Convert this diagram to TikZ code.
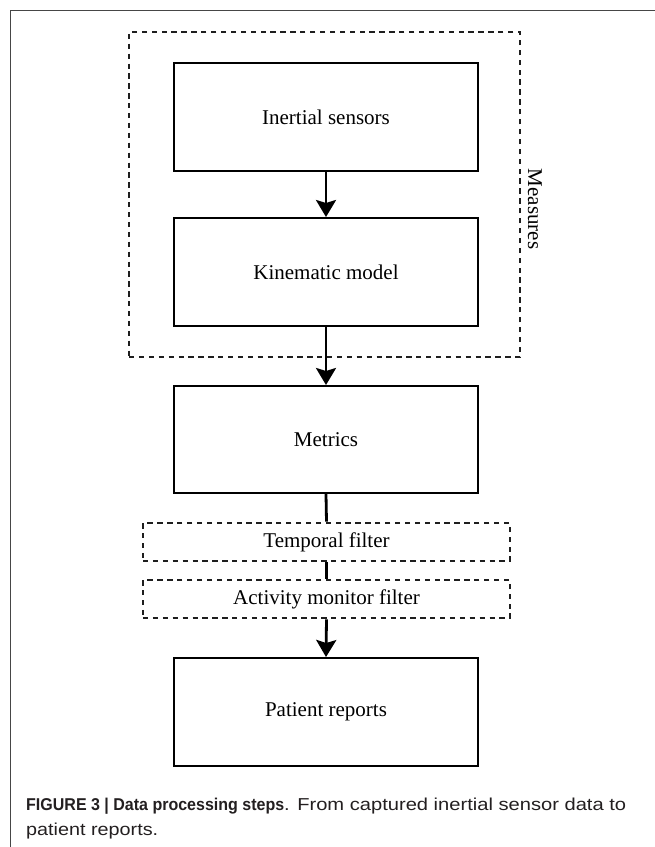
\documentclass[tikz,border=0pt]{standalone}
\usepackage{fontspec}
\setmainfont{Liberation Serif}
\newfontfamily\capfont{Liberation Sans}
\usetikzlibrary{arrows.meta}
\definecolor{framegray}{RGB}{70,70,70}
\definecolor{captext}{RGB}{35,31,32}
\definecolor{dashcol}{RGB}{30,30,30}
\tikzset{
  stepbox/.style={draw=black, line width=2pt, minimum width=304pt, inner sep=0pt,
    font=\fontsize{21}{25}\selectfont},
  dashbox/.style={draw=dashcol, line width=2.9pt, dash pattern=on 5.3pt off 4.6pt, inner sep=0pt,
    font=\fontsize{21}{25}\selectfont},
  arr/.style={line width=2.8pt, -{Stealth[length=17pt,width=20pt,inset=3pt]}},
  link/.style={line width=2.8pt},
  captxt/.style={inner sep=0pt, anchor=base west, text=captext, font=\capfont\fontsize{17.5}{20}\selectfont},
}
\begin{document}
\begin{tikzpicture}[x=1pt,y=-1pt]
\useasboundingbox (0,0) rectangle (655,847);
% outer frame
\draw[framegray, line width=1pt] (655,10.7) -- (10,10.7) -- (10,847);
% measures group
\node[dashbox, minimum width=391pt, minimum height=325pt] (measures) at (324.5,194.5) {};
\node[inner sep=0pt, rotate=-90, font=\fontsize{21}{25}\selectfont] (measlabel) at (535,209) {Measures};
% steps
\node[stepbox, minimum height=108pt] (inertial) at (326,117) {Inertial sensors};
\node[stepbox, minimum height=108pt] (kinematic) at (326,272) {Kinematic model};
\node[stepbox, minimum height=107pt] (metrics) at (326,439.5) {Metrics};
\node[dashbox, minimum width=367pt, minimum height=38pt] (temporal) at (326.5,542) {Temporal filter};
\node[dashbox, minimum width=367pt, minimum height=38pt] (activity) at (326.5,599) {Activity monitor filter};
\node[stepbox, minimum height=108pt] (patient) at (326,712) {Patient reports};
% connectors
\draw[arr] (inertial.south) -- (kinematic.north);
\draw[arr] (kinematic.south) -- (metrics.north);
\draw[link] (metrics.south) -- (temporal.north);
\draw[link] (temporal.south) -- (activity.north);
\draw[arr] (activity.south) -- (patient.north);
% caption
\node[captxt] (cap1) at (26,810) {\resizebox{258pt}{12.4pt}{\textbf{FIGURE 3 | Data processing steps}}\resizebox{342pt}{12.5pt}{. From captured inertial sensor data to}};
\node[captxt] (cap2) at (26,835) {\resizebox{132pt}{12.5pt}{patient reports.}};
\end{tikzpicture}
\end{document}
